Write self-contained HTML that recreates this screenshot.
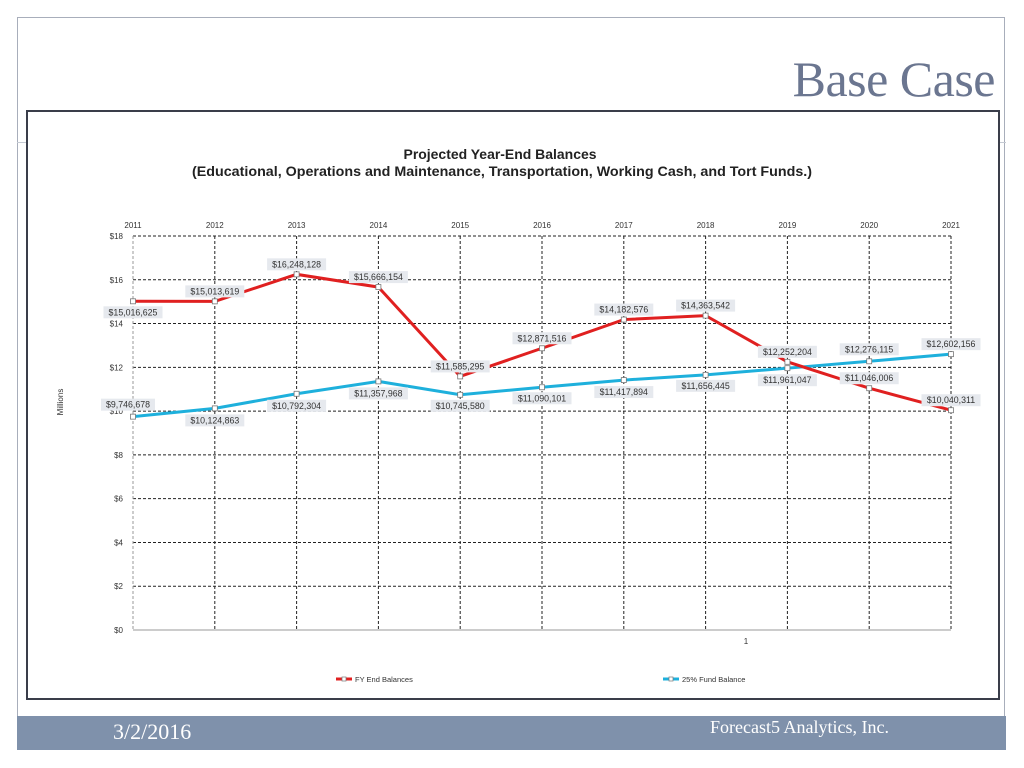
<!DOCTYPE html>
<html><head><meta charset="utf-8"><style>
body{margin:0;width:1024px;height:768px;background:#fff;position:relative;overflow:hidden;font-family:"Liberation Sans",sans-serif}
#frame{position:absolute;left:17px;top:17px;width:988px;height:733px;border:1px solid #a8aebb;box-sizing:border-box}
#title{position:absolute;right:29px;top:50px;font-family:"Liberation Serif",serif;font-size:50px;color:#6b7690;letter-spacing:-0.5px}
#footer{position:absolute;left:17px;top:716px;width:989px;height:34px;background:#7f91ab}
#chartbox{position:absolute;left:26px;top:110px;width:974px;height:590px;border:2px solid #3a3d4a;box-sizing:border-box;background:#fff}
</style></head><body>
<div id="frame"></div>
<div id="title">Base Case</div>
<div style="position:absolute;left:17px;top:142px;width:989px;height:1px;background:#c5cad3"></div>
<div id="chartbox"></div>
<svg id="chart" width="1024" height="768" style="position:absolute;left:0;top:0"></svg>
<div id="footer">
<div style="position:absolute;left:96px;top:3px;font-family:'Liberation Serif',serif;font-size:22px;color:#fff">3/2/2016</div>
<div style="position:absolute;left:693px;top:1px;font-family:'Liberation Serif',serif;font-size:18px;color:#fff">Forecast5 Analytics, Inc.</div>
</div>
<script>
const years=["2011","2012","2013","2014","2015","2016","2017","2018","2019","2020","2021"];
const fyEnd=[15.016625,15.013619,16.248128,15.666154,11.585295,12.871516,14.182576,14.363542,12.252204,11.046006,10.040311];
const fund25=[9.746678,10.124863,10.792304,11.357968,10.745580,11.090101,11.417894,11.656445,11.961047,12.276115,12.602156];
const yTicks=[0,2,4,6,8,10,12,14,16,18];
const redDy=[11,-10,-10,-10,-10,-10,-10,-10,-10,-10,-10];
const blueDy=[-12,12,12,12,11,11,12,11,12,-12,-10];
const NS="http://www.w3.org/2000/svg";
const svg=document.getElementById('chart');
const X0=133,X1=951,Y0=630,Y1=236;
const xs=i=>X0+(X1-X0)*i/(years.length-1);
const ys=v=>Y0-(Y0-Y1)*v/18;
function el(t,a,p){const e=document.createElementNS(NS,t);for(const k in a)e.setAttribute(k,a[k]);(p||svg).appendChild(e);return e;}
function txt(x,y,s,a){const e=el('text',Object.assign({x:x,y:y,'font-family':'Liberation Sans, sans-serif','font-size':8,fill:'#333'},a||{}));e.textContent=s;return e;}
const fmt=v=>'$'+Math.round(v*1e6).toLocaleString('en-US');
let t=txt(500,159,'Projected Year-End Balances',{'font-size':13.5,'font-weight':'bold','text-anchor':'middle',fill:'#222',textLength:193,lengthAdjust:'spacingAndGlyphs'});

t=txt(502,176,'(Educational, Operations and Maintenance, Transportation, Working Cash, and Tort Funds.)',{'font-size':13.5,'font-weight':'bold','text-anchor':'middle',fill:'#222',textLength:620,lengthAdjust:'spacingAndGlyphs'});

t=txt(63,402,'Millions',{'font-size':8,'text-anchor':'middle',transform:'rotate(-90 63 402)'});

yTicks.forEach(v=>{const y=ys(v);
 const l=el('line',{x1:X0,x2:X1,y1:y,y2:y,stroke:v===0?'#999':'#222','stroke-width':1,'stroke-dasharray':v===0?'':'3,2'});
 
 const tt=txt(123,y+3,'$'+v,{'text-anchor':'end'});
 });
years.forEach((yr,i)=>{const x=xs(i);
 const l=el('line',{x1:x,x2:x,y1:Y1,y2:Y0,stroke:i===0?'#999':'#222','stroke-width':1,'stroke-dasharray':'3,2'});
 
 const tt=txt(x,228,yr,{'text-anchor':'middle'});
 });
t=txt(746,644,'1',{'text-anchor':'middle'});
function series(vals,color,name,dys){
 const p=el('polyline',{points:vals.map((v,i)=>xs(i)+','+ys(v)).join(' '),fill:'none',stroke:color,'stroke-width':3});
 
 vals.forEach((v,i)=>{const x=xs(i),y=ys(v);
  const m=el('rect',{x:x-2.5,y:y-2.5,width:5,height:5,fill:'#fff',stroke:'#777','stroke-width':0.8});
  
  const s=fmt(v);const w=s.length*5+4;const cy=y+dys[i];let cx=x;
  if(i===0&&dys[i]<0)cx=x-5;
  const b=el('rect',{x:cx-w/2,y:cy-6,width:w,height:12,fill:'#e6e9ee'});
  
  const tt=txt(cx,cy+3,s,{'text-anchor':'middle','font-size':8.8});
  });
}
series(fund25,'#1eb0dc','fund-balance',blueDy);
series(fyEnd,'#e02020','fy-end',redDy);
function legend(x,color,label,name){
 const l=el('line',{x1:x,x2:x+16,y1:679,y2:679,stroke:color,'stroke-width':3});
 
 const m=el('rect',{x:x+6,y:677,width:4,height:4,fill:'#fff',stroke:'#777','stroke-width':0.7});
 
 const tt=txt(x+19,682,label,{'font-size':7.5});
 
}
legend(336,'#e02020','FY End Balances','fy-end');
legend(663,'#1eb0dc','25% Fund Balance','fund-balance');
</script>
</body></html>
